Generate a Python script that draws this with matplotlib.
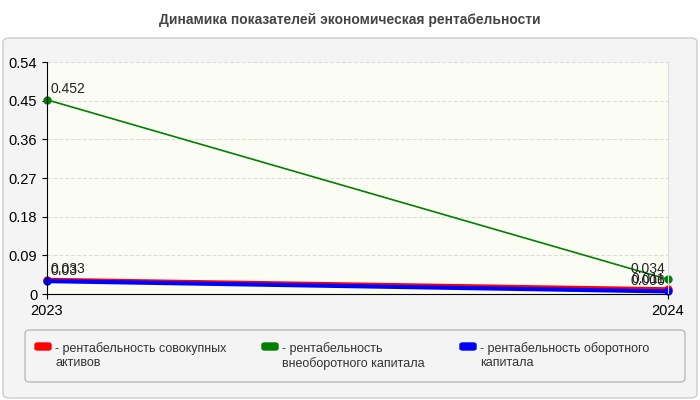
import matplotlib
matplotlib.use("Agg")
import matplotlib.pyplot as plt
from matplotlib.patches import FancyBboxPatch

years = ["2023", "2024"]
total_assets = [0.033, 0.011]
noncurrent = [0.452, 0.034]
current = [0.03, 0.006]
names = ["рентабельность совокупных\nактивов", "рентабельность\nвнеоборотного капитала", "рентабельность оборотного\nкапитала"]
colors = ["#ff0000", "#008000", "#0000ff"]
yticks = [0, 0.09, 0.18, 0.27, 0.36, 0.45, 0.54]

plt.rcParams['font.family'] = ['Liberation Sans', 'DejaVu Sans']
fig = plt.figure(figsize=(7, 4), dpi=100)
fig.patches.append(FancyBboxPatch((3/700, 2/400), 694/700, 360/400, boxstyle="round,pad=0,rounding_size=0.01",
                                  transform=fig.transFigure, fc="#f4f4f4", ec="#cccccc", lw=1, zorder=-5))
fig.patches.append(FancyBboxPatch((25/700, 18/400), 660/700, 52/400, boxstyle="round,pad=0,rounding_size=0.008",
                                  transform=fig.transFigure, fc="#f4f4f4", ec="#bbbbbb", lw=1, zorder=-4))
fig.text(0.5, 380/400, "Динамика показателей экономическая рентабельности", ha="center", va="center",
         fontsize=10, fontweight="bold", color="#444444")
ax = fig.add_axes([47/700, 106/400, 621/700, 232/400])
ax.set_zorder(5)
ax.set_facecolor("#fbfdf5")
x = [0, 1]
series = [total_assets, noncurrent, current]
for s, c in zip(series, colors):
    lw = 3 if c != "#008000" else 1.2
    ax.plot(x, s, color=c, lw=lw, marker="o", ms=5, clip_on=False)
for s in series:
    for xi, v in zip(x, s):
        ax.text(xi + (0.005 if xi == 0 else -0.005), v + 0.008, f"{v:g}", ha="left" if xi == 0 else "right",
                va="bottom", fontsize=10, color="#222222")
ax.set_xlim(0, 1)
ax.set_ylim(0, 0.54)
ax.set_xticks(x, years)
ax.set_yticks(yticks, [f"{t:g}" for t in yticks])
ax.grid(axis="y", color="#dddddd", ls="--", lw=0.8)
ax.spines["top"].set_visible(False)
ax.spines["right"].set_color("#dddddd")
ax.tick_params(labelsize=10.5)
lx = [35, 262, 460]
for xx, n, c in zip(lx, names, colors):
    fig.patches.append(FancyBboxPatch((xx/700, 50/400), 16/700, 7/400, boxstyle="round,pad=0,rounding_size=0.004",
                                      transform=fig.transFigure, fc=c, ec=c))
    fig.text((xx + 20)/700, 58/400, "- " + n, fontsize=9, va="top", ha="left", color="#333333")
fig.savefig("out.png")
